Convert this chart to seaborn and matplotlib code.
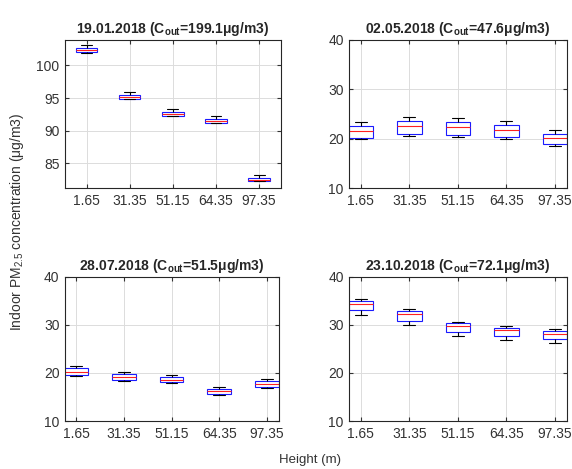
import pandas as pd
import numpy as np
import matplotlib
matplotlib.use('Agg')
import matplotlib.pyplot as plt
import seaborn as sns

# 높이(m) 카테고리와 날짜별 외기 농도
heights = ['1.65', '31.35', '51.15', '64.35', '97.35']
dates = ['19.01.2018', '02.05.2018', '28.07.2018', '23.10.2018']
cout = ['199.1', '47.6', '51.5', '72.1']

# 각 높이별 [최소, Q1, 중앙값, Q3, 최대]
jan = [[101.9, 102.0, 102.3, 102.6, 103.1],
       [94.9, 94.9, 95.1, 95.4, 96.0],
       [92.3, 92.3, 92.5, 92.8, 93.3],
       [91.2, 91.2, 91.4, 91.8, 92.3],
       [82.2, 82.2, 82.4, 82.7, 83.2]]
may = [[19.9, 20.3, 21.7, 22.7, 23.45],
       [20.7, 21.1, 22.7, 23.7, 24.5],
       [20.5, 20.9, 22.35, 23.45, 24.25],
       [20.05, 20.45, 21.8, 22.8, 23.65],
       [18.6, 19.0, 20.2, 21.1, 21.8]]
jul = [[19.4, 19.6, 20.25, 20.9, 21.4],
       [18.4, 18.6, 19.2, 19.8, 20.2],
       [17.8, 18.0, 18.5, 19.1, 19.55],
       [15.5, 15.7, 16.2, 16.65, 17.1],
       [16.9, 17.1, 17.7, 18.25, 18.7]]
octo = [[32.0, 33.1, 34.25, 35.0, 35.4],
        [30.0, 30.85, 32.2, 32.9, 33.2],
        [27.6, 28.4, 29.8, 30.3, 30.6],
        [26.8, 27.7, 28.9, 29.3, 29.75],
        [26.2, 27.0, 28.15, 28.6, 29.05]]
panels = [jan, may, jul, octo]

ylims = [(81.2, 103.9), (10, 40), (10, 40), (10, 40)]
yticks = [[85, 90, 95, 100], [10, 20, 30, 40], [10, 20, 30, 40], [10, 20, 30, 40]]
xlims = [(-0.5, 4.5), (-0.24, 4.24), (-0.23, 4.25), (-0.24, 4.24)]

sns.set_style('white')
plt.rcParams['font.family'] = ['Liberation Sans', 'DejaVu Sans']
plt.rcParams['mathtext.fontset'] = 'custom'
plt.rcParams['mathtext.rm'] = 'Liberation Sans'
plt.rcParams['mathtext.bf'] = 'Liberation Sans:bold'

fig = plt.figure(figsize=(5.72, 4.69), dpi=100)
W, H = 572, 469
# 축 위치 (픽셀: 왼쪽, 위, 오른쪽, 아래)
boxes = [(65, 40, 280.7, 188), (349.3, 40, 566.5, 188.5),
         (65, 276.5, 279, 421), (349.3, 276.5, 566.5, 421)]

for i, vals in enumerate(panels):
    l, t, r, b = boxes[i]
    ax = fig.add_axes([l / W, 1 - b / H, (r - l) / W, (b - t) / H])
    df = pd.DataFrame({'height': np.repeat(heights, 5),
                       'value': np.concatenate(vals)})
    sns.boxplot(data=df, x='height', y='value', order=heights, ax=ax,
                width=0.5, whis=(0, 100), showfliers=False, linewidth=0.8,
                boxprops=dict(facecolor='white', edgecolor='#1a1aff'),
                medianprops=dict(color='#ff2020', linewidth=0.8),
                whiskerprops=dict(color='black', linewidth=0.8),
                capprops=dict(color='black', linewidth=0.8))
    ax.set_xlim(*xlims[i])
    ax.set_ylim(*ylims[i])
    ax.set_yticks(yticks[i])
    ax.set_xlabel('')
    ax.set_ylabel('')
    ax.grid(True, color='#dcdcdc', linewidth=0.7)
    ax.set_axisbelow(True)
    for s in ax.spines.values():
        s.set_color('#262626')
        s.set_linewidth(0.8)
    ax.tick_params(direction='in', length=3, labelsize=10, colors='#333333',
                   pad=4, top=True, right=True, bottom=True, left=True,
                   labeltop=False, labelright=False)
    ax.set_title(dates[i] + r' (C$_{\mathbf{out}}$=' + cout[i] + 'μg/m3)',
                 fontsize=10, fontweight='bold', pad=5)

fig.text(17 / W, 1 - 222 / H, 'Indoor PM$_{2.5}$ concentration (μg/m3)',
         rotation=90, ha='center', va='center', fontsize=10, color='#333333')
fig.text(310 / W, 1 - 460 / H, 'Height (m)', ha='center', va='center',
         fontsize=9.5, color='#333333')

plt.savefig('out.png', dpi=100)
